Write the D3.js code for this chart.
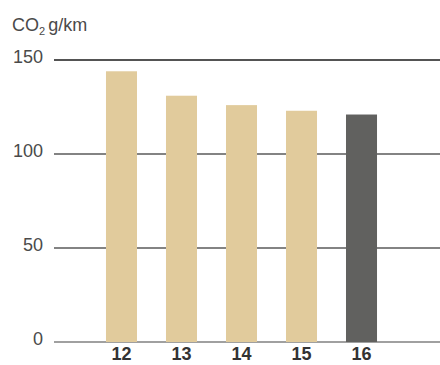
<!DOCTYPE html>
<html>
<head>
<meta charset="utf-8">
<script src="https://cdn.jsdelivr.net/npm/d3@7"></script>
<style>
  html, body { margin: 0; padding: 0; background: #fff; }
  svg { display: block; font-family: "Liberation Sans", Helvetica, Arial, sans-serif; }
</style>
</head>
<body>
<div id="viz"></div>
<script>
// data
const years = ['12', '13', '14', '15', '16'];
const co2 = [144, 131, 126, 123, 121];
const yTicks = [0, 50, 100, 150];

const width = 440;
const height = 365;

const svg = d3.select('#viz').append('svg')
  .attr('width', width)
  .attr('height', height);

const x = d3.scaleBand()
  .domain(years)
  .range([77, 406])
  .paddingInner(0.483)
  .paddingOuter(0.483);

const y = d3.scaleLinear()
  .domain([0, 150])
  .range([342, 60]);

// gridlines
svg.append('g')
  .selectAll('line')
  .data(yTicks)
  .join('line')
  .attr('x1', 54)
  .attr('x2', width)
  .attr('y1', d => y(d))
  .attr('y2', d => y(d))
  .attr('stroke', d => d === 150 ? '#1a1a1a' : (d === 0 ? '#808080' : '#5a5a5a'))
  .attr('stroke-width', 1.4);

// y tick labels
svg.append('g')
  .selectAll('text')
  .data(yTicks)
  .join('text')
  .attr('x', 43)
  .attr('y', d => y(d) + 3)
  .attr('text-anchor', 'end')
  .attr('fill', '#4a4a4a')
  .attr('font-size', 18)
  .text(d => d);

// unit label
const unit = svg.append('text')
  .attr('x', 12)
  .attr('y', 31)
  .attr('fill', '#4a4a4a')
  .attr('font-size', 18);
unit.append('tspan').text('CO');
unit.append('tspan').attr('font-size', 11).attr('dy', 4).text('2');
unit.append('tspan').attr('dy', -4).attr('dx', 3).text('g/km');

// bars
svg.append('g')
  .selectAll('rect')
  .data(years)
  .join('rect')
  .attr('x', d => x(d))
  .attr('width', x.bandwidth())
  .attr('y', (d, i) => y(co2[i]))
  .attr('height', (d, i) => y(0) - y(co2[i]))
  .attr('fill', d => d === '16' ? '#61615f' : '#e1cb9c');

// x labels (kept just inside the bottom edge)
svg.append('g')
  .selectAll('text')
  .data(years)
  .join('text')
  .attr('x', d => x(d) + x.bandwidth() / 2)
  .attr('y', 360)
  .attr('text-anchor', 'middle')
  .attr('fill', '#333')
  .attr('font-weight', 'bold')
  .attr('font-size', 18)
  .text(d => d);
</script>
</body>
</html>
